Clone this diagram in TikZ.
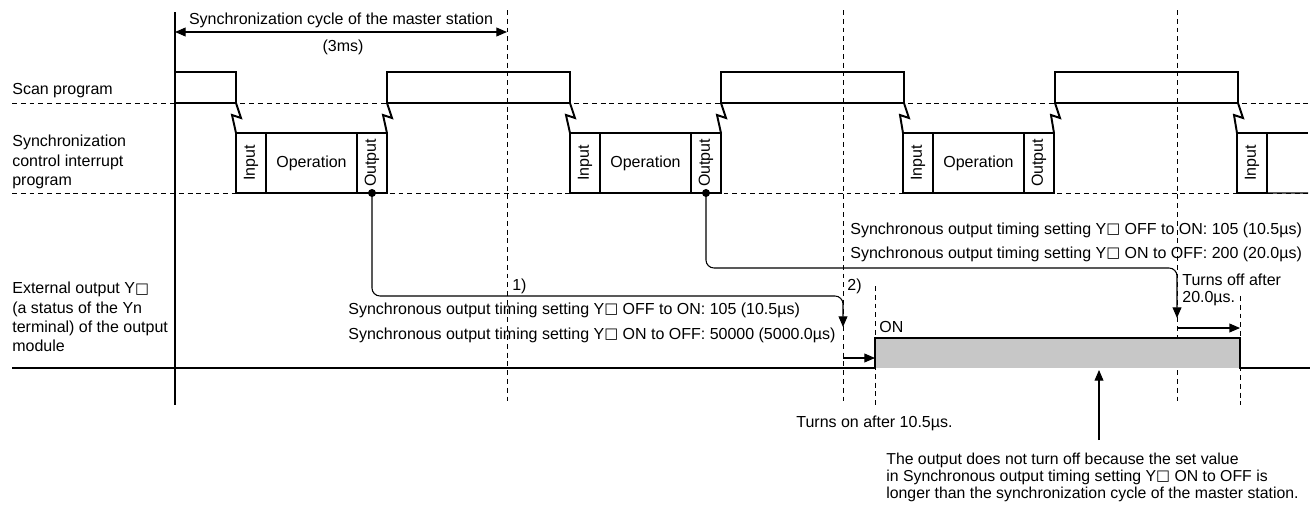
\documentclass[tikz,border=0pt]{standalone}
\usepackage{fontspec}
\setmainfont{Liberation Sans}
\newfontfamily\symfont{DejaVu Sans}
\newcommand{\ysq}{{\symfont\fontsize{8.4}{10}\selectfont\raisebox{0.4pt}{□}}}
\usepackage{graphicx}
\usetikzlibrary{arrows.meta, positioning}

\begin{document}
\begin{tikzpicture}[
    x=0.02cm, y=-0.02cm,
    every node/.style = {
        font=\fontsize{9.1}{11}\selectfont,
        inner sep=0pt
    },
    txt/.style = {anchor=west, align=left},
    grid/.style = {dash pattern=on 2.8pt off 2.2pt, line width=0.5pt},
    scanbox/.style = {
        draw,
        line width=0.6pt,
        minimum width=3.66cm,
        minimum height=0.62cm,
        outer sep=0pt
    },
    slot/.style = {
        draw,
        line width=0.6pt,
        minimum width=0.6cm,
        minimum height=1.2cm,
        outer sep=0pt
    },
    opbox/.style = {slot, minimum width=1.82cm},
    zap/.style = {line width=1.1pt, miter limit=10},
    dot/.style = {circle, fill, minimum size=0.16cm},
    signal/.style = {line width=1.3pt},
    axis/.style = {line width=1.3pt},
    arrow/.style = {-{Triangle[length=6pt, width=5pt]}, line width=0.6pt},
    link/.style = {arrow, rounded corners=0.16cm}
]

\useasboundingbox (0,0) rectangle (1314,507);

%% ── Grid lines ──────────────────────────────────────────────────────────────

\draw[grid] (12,103) -- (1310,103);
\draw[grid] (12,193) -- (1310,193);
\draw[grid] (507,10)  -- (507,405);
\draw[grid] (843,10)  -- (843,405);
\draw[grid] (1177,10) -- (1177,405);
\draw[grid] (875,286) -- (875,405);
\draw[grid] (1240,296) -- (1240,405);

\draw[axis] (175,12) -- (175,405);

%% ── Row labels ──────────────────────────────────────────────────────────────

\node[txt] (lscan) at (12,91) {Scan program};
\node[txt] (lint)  at (12,162) {Synchronization\\control interrupt\\program};
\node[txt] (lout)  at (12,317) {External output Y\ysq\\(a status of the Yn\\terminal) of the output\\module};

%% ── Synchronization cycle ───────────────────────────────────────────────────

\coordinate (cyc0) at (175,32);
\coordinate (cyc1) at (507,32);
\draw[arrow, {Triangle[length=6pt, width=5pt]}-{Triangle[length=6pt, width=5pt]}] (cyc0) -- (cyc1);
\node (cyctext) at (341,20) {Synchronization cycle of the master station};
\node (cycms)   at (343,47) {(3ms)};

%% ── Scan program ────────────────────────────────────────────────────────────

\node[scanbox, anchor=south west, minimum width=1.22cm] (scan1) at (175,103) {};
\node[scanbox, anchor=south west] (scan2) at (387,103) {};
\node[scanbox, anchor=south west] (scan3) at (721,103) {};
\node[scanbox, anchor=south west] (scan4) at (1055,103) {};

%% ── Interrupt program ───────────────────────────────────────────────────────

\node[slot, anchor=north west] (in1) at (236,133) {\rotatebox{90}{Input}};
\node[opbox, right=0pt of in1] (op1)  {Operation};
\node[slot,  right=0pt of op1] (out1) {\rotatebox{90}{Output}};

\node[slot, anchor=north west] (in2) at (570,133) {\rotatebox{90}{Input}};
\node[opbox, right=0pt of in2] (op2)  {Operation};
\node[slot,  right=0pt of op2] (out2) {\rotatebox{90}{Output}};

\node[slot, anchor=north west] (in3) at (903,133) {\rotatebox{90}{Input}};
\node[opbox, right=0pt of in3] (op3)  {Operation};
\node[slot,  right=0pt of op3] (out3) {\rotatebox{90}{Output}};

\node[slot, anchor=north west] (in4) at (1237,133) {\rotatebox{90}{Input}};
\draw[line width=0.6pt] (in4.north east) -- (1308,133);
\draw[line width=0.6pt] (in4.south east) -- (1308,193);

% interrupt marks
\draw[zap] (scan1.south east) -- ++(5,15) -- ++(-9,-3) -- (in1.north west);
\draw[zap] (scan2.south west) -- ++(5,15) -- ++(-9,-3) -- (out1.north east);
\draw[zap] (scan2.south east) -- ++(5,15) -- ++(-9,-3) -- (in2.north west);
\draw[zap] (scan3.south west) -- ++(5,15) -- ++(-9,-3) -- (out2.north east);
\draw[zap] (scan3.south east) -- ++(5,15) -- ++(-9,-3) -- (in3.north west);
\draw[zap] (scan4.south west) -- ++(5,15) -- ++(-9,-3) -- (out3.north east);
\draw[zap] (scan4.south east) -- ++(5,15) -- ++(-9,-3) -- (in4.north west);

%% ── External output ─────────────────────────────────────────────────────────

\fill[black!22] (875,338) rectangle (1240,368);
\draw[signal] (12,368) -- (875,368) -- (875,338) -- (1240,338) -- (1240,368) -- (1310,368);
\node[txt] (on) at (879,327) {ON};

%% ── Output timing ───────────────────────────────────────────────────────────

\node[dot] (dot1) at (out1.south) {};
\node[dot] (dot2) at (out2.south) {};
\coordinate (hit1) at (843,327);
\coordinate (hit2) at (1177,318);

\draw[link] (dot1.center) |- (hit1 |- 0,296) -- (hit1);
\draw[link] (dot2.center) |- (hit2 |- 0,268) -- (hit2);

\node[txt] (n1) at (512,286) {1)};
\node[txt] (n2) at (847,286) {2)};

\node[txt] (set1a) at (348,310) {Synchronous output timing setting Y\ysq\ OFF to ON: 105 (10.5µs)};
\node[txt] (set1b) at (348,335) {Synchronous output timing setting Y\ysq\ ON to OFF: 50000 (5000.0µs)};
\node[txt] (set2a) at (850,230) {Synchronous output timing setting Y\ysq\ OFF to ON: 105 (10.5µs)};
\node[txt] (set2b) at (850,254) {Synchronous output timing setting Y\ysq\ ON to OFF: 200 (20.0µs)};

\coordinate (ton0) at (843,358);
\coordinate (ton1) at (875,358);
\draw[arrow] (ton0) -- (ton1);
\coordinate (toff0) at (1177,328);
\coordinate (toff1) at (1240,328);
\draw[arrow] (toff0) -- (toff1);

\node[txt, font=\fontsize{9.1}{9.3}\selectfont] (offnote) at (1182,290) {Turns off after\\20.0µs.};
\node[txt] (onnote) at (796,423) {Turns on after 10.5µs.};

\node[txt, font=\fontsize{9}{9.7}\selectfont] (note) at (886,477)
    {The output does not turn off because the set value\\in Synchronous output timing setting Y\ysq\ ON to OFF is\\longer than the synchronization cycle of the master station.};
\coordinate (up0) at (1099,440);
\coordinate (up1) at (1099,370);
\draw[arrow] (up0) -- (up1);

\end{tikzpicture}
\end{document}
